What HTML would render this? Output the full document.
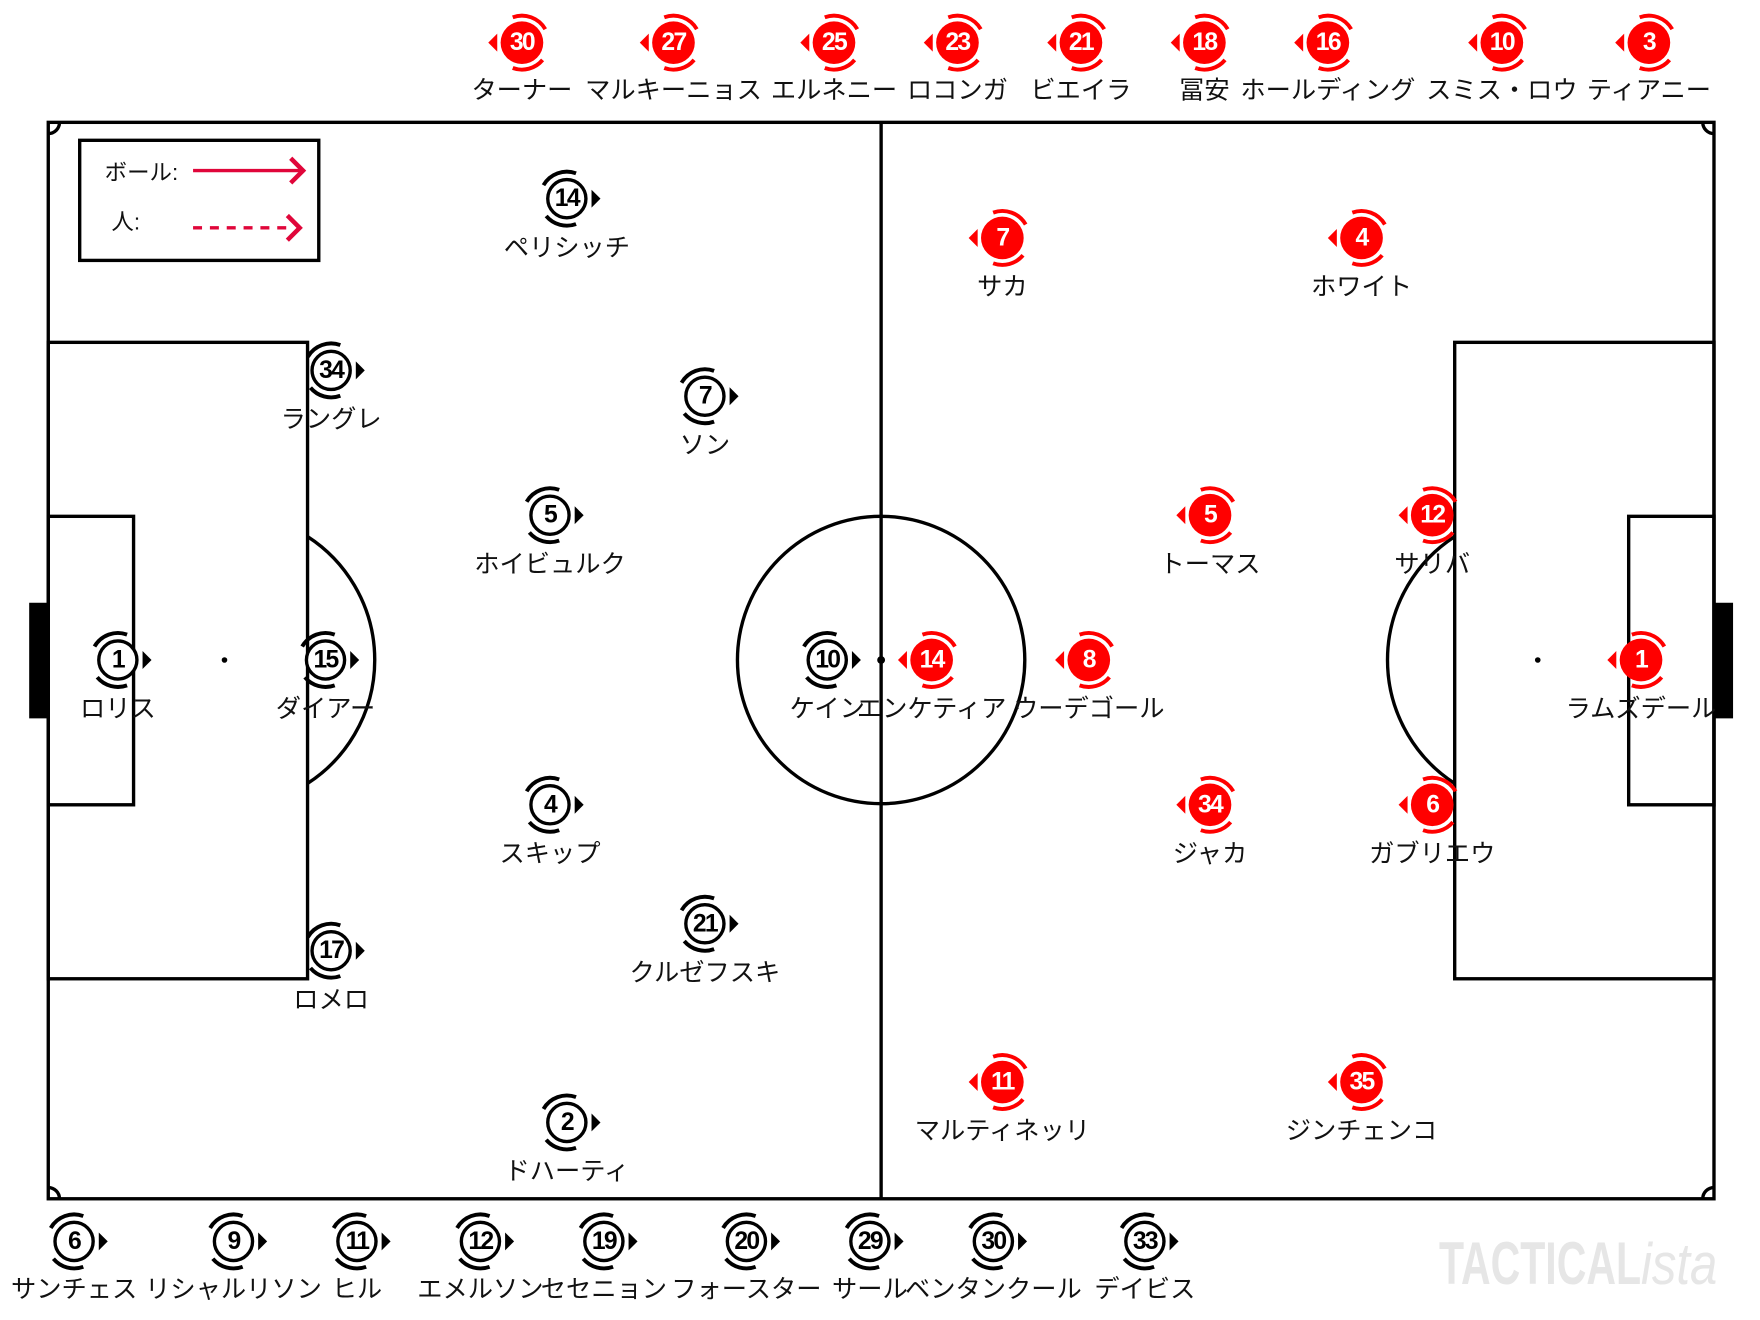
<!DOCTYPE html>
<html><head><meta charset="utf-8"><style>
html,body{margin:0;padding:0;background:#fff;}
svg{display:block}
.lb{font-family:"Liberation Sans","Noto Sans CJK JP",sans-serif;font-size:22.5px;fill:#111;text-anchor:middle;dominant-baseline:middle}
.nb{font-family:"Liberation Sans Narrow","Liberation Sans",sans-serif;font-weight:bold;font-size:22px;text-anchor:middle;dominant-baseline:central;fill:#000;letter-spacing:-1.5px}
.nr{font-family:"Liberation Sans Narrow","Liberation Sans",sans-serif;font-weight:bold;font-size:22px;text-anchor:middle;dominant-baseline:central;fill:#fff;letter-spacing:-1.5px}
</style></head><body>
<svg width="1760" height="1320" viewBox="0 0 1568 1176" xmlns="http://www.w3.org/2000/svg">
<defs>
<g id="bt">
<path d="M -20.8 -12 A 24 24 0 0 1 8.2 -22.6" fill="none" stroke="#000" stroke-width="3.5"/>
<path d="M -18.4 15.4 A 24 24 0 0 0 8.2 22.6" fill="none" stroke="#000" stroke-width="3.5"/>
<circle r="17" fill="#fff" stroke="#000" stroke-width="3"/>
<path d="M 22 -8 L 30 0 L 22 8 Z" fill="#000"/>
</g>
<g id="rt">
<path d="M 20.8 -12 A 24 24 0 0 0 -8.2 -22.6" fill="none" stroke="#f00" stroke-width="3.5"/>
<path d="M 18.4 15.4 A 24 24 0 0 1 -8.2 22.6" fill="none" stroke="#f00" stroke-width="3.5"/>
<circle r="19" fill="#f00"/>
<path d="M -22 -8 L -30 0 L -22 8 Z" fill="#f00"/>
</g>
</defs>
<g fill="none" stroke="#000" stroke-width="3">
<rect x="43" y="109" width="1484" height="959"/>
<line x1="785" y1="109" x2="785" y2="1068"/>
<circle cx="785" cy="588" r="128"/>
<rect x="43" y="305" width="231" height="567"/>
<rect x="43" y="460" width="76" height="257"/>
<rect x="1296" y="305" width="231" height="567"/>
<rect x="1451" y="460" width="76" height="257"/>
<path d="M 274 478 A 131 131 0 0 1 274 698"/>
<path d="M 1296 478 A 131 131 0 0 0 1296 698"/>
<path d="M 43 119 A 10 10 0 0 0 53 109"/>
<path d="M 1517 109 A 10 10 0 0 0 1527 119"/>
<path d="M 53 1068 A 10 10 0 0 0 43 1058"/>
<path d="M 1527 1058 A 10 10 0 0 0 1517 1068"/>
</g>
<rect x="26" y="537" width="17" height="103" fill="#000"/>
<rect x="1527" y="537" width="17" height="103" fill="#000"/>
<circle cx="200" cy="588" r="2.5" fill="#000"/>
<circle cx="1370" cy="588" r="2.5" fill="#000"/>
<circle cx="785" cy="588" r="3.5" fill="#000"/>
<rect x="71" y="125" width="213" height="107" fill="#fff" stroke="#000" stroke-width="3"/>
<text class="lb" x="126" y="155" style="font-size:20px">ボール:</text>
<text class="lb" x="112" y="199" style="font-size:20px">人:</text>
<line x1="172" y1="152" x2="268" y2="152" stroke="#e0063a" stroke-width="3"/>
<path d="M 259 141 L 270 152 L 259 163" fill="none" stroke="#e0063a" stroke-width="4"/>
<line x1="172" y1="203" x2="262" y2="203" stroke="#e0063a" stroke-width="3" stroke-dasharray="8,7"/>
<path d="M 256 192 L 267 203 L 256 214" fill="none" stroke="#e0063a" stroke-width="4"/>

<use href="#bt" x="505" y="177"/><text class="nb" x="505" y="177">14</text><text class="lb" x="505" y="222">ペリシッチ</text>
<use href="#bt" x="295" y="330"/><text class="nb" x="295" y="330">34</text><text class="lb" x="295" y="375">ラングレ</text>
<use href="#bt" x="628" y="353"/><text class="nb" x="628" y="353">7</text><text class="lb" x="628" y="398">ソン</text>
<use href="#bt" x="490" y="459"/><text class="nb" x="490" y="459">5</text><text class="lb" x="490" y="504">ホイビュルク</text>
<use href="#bt" x="105" y="588"/><text class="nb" x="105" y="588">1</text><text class="lb" x="105" y="633">ロリス</text>
<use href="#bt" x="290" y="588"/><text class="nb" x="290" y="588">15</text><text class="lb" x="290" y="633">ダイアー</text>
<use href="#bt" x="737" y="588"/><text class="nb" x="737" y="588">10</text><text class="lb" x="737" y="633">ケイン</text>
<use href="#bt" x="490" y="717"/><text class="nb" x="490" y="717">4</text><text class="lb" x="490" y="762">スキップ</text>
<use href="#bt" x="628" y="823"/><text class="nb" x="628" y="823">21</text><text class="lb" x="628" y="868">クルゼフスキ</text>
<use href="#bt" x="295" y="847"/><text class="nb" x="295" y="847">17</text><text class="lb" x="295" y="892">ロメロ</text>
<use href="#bt" x="505" y="1000"/><text class="nb" x="505" y="1000">2</text><text class="lb" x="505" y="1045">ドハーティ</text>

<use href="#rt" x="893" y="212"/><text class="nr" x="893" y="212">7</text><text class="lb" x="893" y="257">サカ</text>
<use href="#rt" x="1213" y="212"/><text class="nr" x="1213" y="212">4</text><text class="lb" x="1213" y="257">ホワイト</text>
<use href="#rt" x="1078" y="459"/><text class="nr" x="1078" y="459">5</text><text class="lb" x="1078" y="504">トーマス</text>
<use href="#rt" x="1276" y="459"/><text class="nr" x="1276" y="459">12</text><text class="lb" x="1276" y="504">サリバ</text>
<use href="#rt" x="830" y="588"/><text class="nr" x="830" y="588">14</text><text class="lb" x="830" y="633">エンケティア</text>
<use href="#rt" x="970" y="588"/><text class="nr" x="970" y="588">8</text><text class="lb" x="970" y="633">ウーデゴール</text>
<use href="#rt" x="1462" y="588"/><text class="nr" x="1462" y="588">1</text><text class="lb" x="1462" y="633">ラムズデール</text>
<use href="#rt" x="1078" y="717"/><text class="nr" x="1078" y="717">34</text><text class="lb" x="1078" y="762">ジャカ</text>
<use href="#rt" x="1276" y="717"/><text class="nr" x="1276" y="717">6</text><text class="lb" x="1276" y="762">ガブリエウ</text>
<use href="#rt" x="893" y="964"/><text class="nr" x="893" y="964">11</text><text class="lb" x="893" y="1009">マルティネッリ</text>
<use href="#rt" x="1213" y="964"/><text class="nr" x="1213" y="964">35</text><text class="lb" x="1213" y="1009">ジンチェンコ</text>

<use href="#rt" x="465" y="38"/><text class="nr" x="465" y="38">30</text><text class="lb" x="465" y="82">ターナー</text>
<use href="#rt" x="600" y="38"/><text class="nr" x="600" y="38">27</text><text class="lb" x="600" y="82">マルキーニョス</text>
<use href="#rt" x="743" y="38"/><text class="nr" x="743" y="38">25</text><text class="lb" x="743" y="82">エルネニー</text>
<use href="#rt" x="853" y="38"/><text class="nr" x="853" y="38">23</text><text class="lb" x="853" y="82">ロコンガ</text>
<use href="#rt" x="963" y="38"/><text class="nr" x="963" y="38">21</text><text class="lb" x="963" y="82">ビエイラ</text>
<use href="#rt" x="1073" y="38"/><text class="nr" x="1073" y="38">18</text><text class="lb" x="1073" y="82">冨安</text>
<use href="#rt" x="1183" y="38"/><text class="nr" x="1183" y="38">16</text><text class="lb" x="1183" y="82">ホールディング</text>
<use href="#rt" x="1338" y="38"/><text class="nr" x="1338" y="38">10</text><text class="lb" x="1338" y="82">スミス・ロウ</text>
<use href="#rt" x="1469" y="38"/><text class="nr" x="1469" y="38">3</text><text class="lb" x="1469" y="82">ティアニー</text>

<use href="#bt" x="66" y="1106"/><text class="nb" x="66" y="1106">6</text><text class="lb" x="66" y="1150">サンチェス</text>
<use href="#bt" x="208" y="1106"/><text class="nb" x="208" y="1106">9</text><text class="lb" x="208" y="1150">リシャルリソン</text>
<use href="#bt" x="318" y="1106"/><text class="nb" x="318" y="1106">11</text><text class="lb" x="318" y="1150">ヒル</text>
<use href="#bt" x="428" y="1106"/><text class="nb" x="428" y="1106">12</text><text class="lb" x="428" y="1150">エメルソン</text>
<use href="#bt" x="538" y="1106"/><text class="nb" x="538" y="1106">19</text><text class="lb" x="538" y="1150">セセニョン</text>
<use href="#bt" x="665" y="1106"/><text class="nb" x="665" y="1106">20</text><text class="lb" x="665" y="1150">フォースター</text>
<use href="#bt" x="775" y="1106"/><text class="nb" x="775" y="1106">29</text><text class="lb" x="775" y="1150">サール</text>
<use href="#bt" x="885" y="1106"/><text class="nb" x="885" y="1106">30</text><text class="lb" x="885" y="1150">ベンタンクール</text>
<use href="#bt" x="1020" y="1106"/><text class="nb" x="1020" y="1106">33</text><text class="lb" x="1020" y="1150">デイビス</text>

<text x="1282" y="1144" fill="#e6e6e6" style="font-family:'Liberation Sans Narrow','Liberation Sans',sans-serif;font-weight:bold;font-size:54px" textLength="180" lengthAdjust="spacingAndGlyphs">TACTICAL</text>
<text x="1462" y="1144" fill="#e6e6e6" style="font-family:'Liberation Sans',sans-serif;font-style:italic;font-size:52px" textLength="68" lengthAdjust="spacingAndGlyphs">ista</text>
</svg>
</body></html>
